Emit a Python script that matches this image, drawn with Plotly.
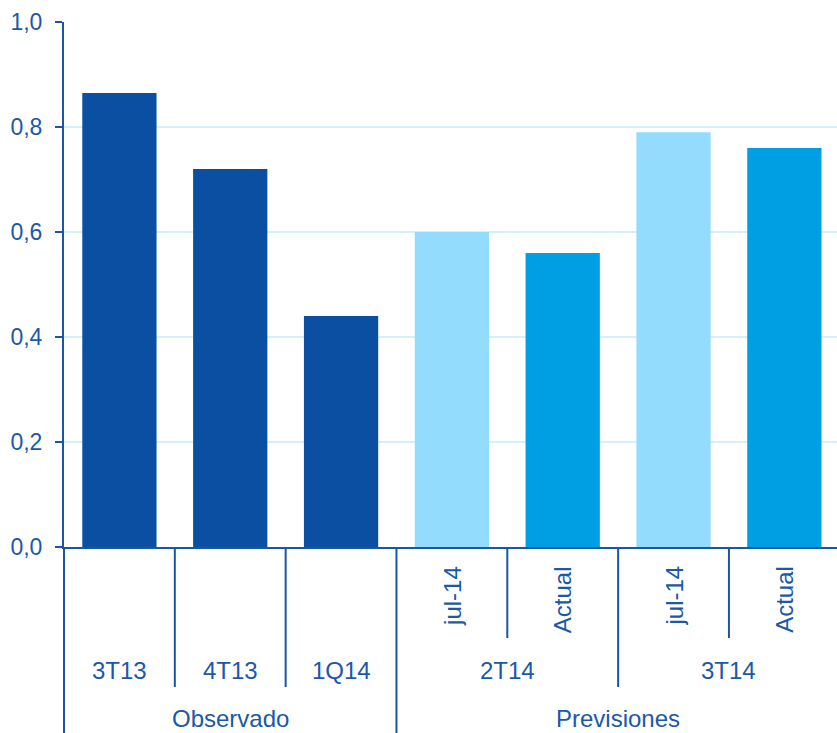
import plotly.graph_objects as go

# ---- data ----
level1 = ["", "", "", "jul-14", "Actual", "jul-14", "Actual"]
level2 = ["3T13", "4T13", "1Q14", "2T14", "2T14", "3T14", "3T14"]
level3 = ["Observado", "Observado", "Observado", "Previsiones", "Previsiones", "Previsiones", "Previsiones"]
values = [0.865, 0.72, 0.44, 0.60, 0.56, 0.79, 0.76]
y_ticks = [0.0, 0.2, 0.4, 0.6, 0.8, 1.0]

# ---- style ----
C_DARK = "#0b4fa3"
C_LIGHT = "#93dcfd"
C_MED = "#009fe3"
C_AXIS = "#1a56a8"
C_TEXT = "#1b58a8"
C_GRID = "#d6eff9"
FONT = "Liberation Sans, Arial, sans-serif"
FS = 24

W, H = 837, 733
M_L, M_R, M_T, M_B = 64, 0, 22, 186
plot_h = H - M_T - M_B

color_map = {"": C_DARK, "jul-14": C_LIGHT, "Actual": C_MED}
colors = [color_map[c] for c in level1]
n = len(values)
xs = list(range(n))
X_MIN, X_MAX = -0.5, n - 0.525  # last category slightly cut by the right edge
span = X_MAX - X_MIN

fig = go.Figure(go.Bar(x=xs, y=values, marker=dict(color=colors, line=dict(width=0)),
                       width=0.67, hoverinfo="skip"))

def py(px_y):
    # pixel y from top of page -> paper coordinate
    return (H - M_B - px_y) / plot_h

def pxb(b):
    # category boundary index -> paper x
    return (b - 0.5 - X_MIN) / span

shapes = []
annotations = []
Y_L1 = 638
Y_L2 = 687
Y_L3 = H
for b in range(0, n):
    if b == 0 or level3[b - 1] != level3[b]:
        yb = Y_L3
    elif level2[b - 1] != level2[b]:
        yb = Y_L2
    else:
        yb = Y_L1
    shapes.append(dict(type="line", xref="paper", yref="paper",
                       x0=pxb(b), x1=pxb(b), y0=0, y1=py(yb),
                       line=dict(color=C_AXIS, width=2)))

# level 1 labels (rotated)
for i, lab in enumerate(level1):
    if lab:
        annotations.append(dict(x=xs[i], y=py(564), xref="x", yref="paper", text=lab,
                                textangle=-90, showarrow=False, xanchor="center", yanchor="top",
                                font=dict(family=FONT, size=FS, color=C_TEXT)))

# level 2 labels (grouped)
i = 0
while i < n:
    j = i
    while j + 1 < n and level2[j + 1] == level2[i] and level3[j + 1] == level3[i]:
        j += 1
    annotations.append(dict(x=(xs[i] + xs[j]) / 2, y=py(670), xref="x", yref="paper",
                            text=level2[i], showarrow=False, xanchor="center", yanchor="middle",
                            font=dict(family=FONT, size=FS, color=C_TEXT)))
    i = j + 1

# level 3 labels
i = 0
while i < n:
    j = i
    while j + 1 < n and level3[j + 1] == level3[i]:
        j += 1
    annotations.append(dict(x=(xs[i] + xs[j]) / 2, y=py(718), xref="x", yref="paper",
                            text=level3[i], showarrow=False, xanchor="center", yanchor="middle",
                            font=dict(family=FONT, size=FS, color=C_TEXT)))
    i = j + 1

fig.update_layout(
    width=W, height=H,
    margin=dict(l=M_L, r=M_R, t=M_T, b=M_B, pad=0),
    paper_bgcolor="white", plot_bgcolor="white",
    separators=",.",
    showlegend=False,
    shapes=shapes,
    annotations=annotations,
    xaxis=dict(range=[X_MIN, X_MAX], showticklabels=False, ticks="", showgrid=False,
               zeroline=False, showline=True, linecolor=C_AXIS, linewidth=2, fixedrange=True),
    yaxis=dict(range=[0, 1], tickvals=y_ticks, tickformat=".1f", ticks="outside", ticklen=7,
               tickwidth=2, tickcolor=C_AXIS, showline=True, linecolor=C_AXIS, linewidth=2,
               showgrid=True, gridcolor=C_GRID, gridwidth=2, zeroline=False,
               tickfont=dict(family=FONT, size=23, color=C_TEXT), ticklabelstandoff=8),
)

fig.write_html("out.html")
